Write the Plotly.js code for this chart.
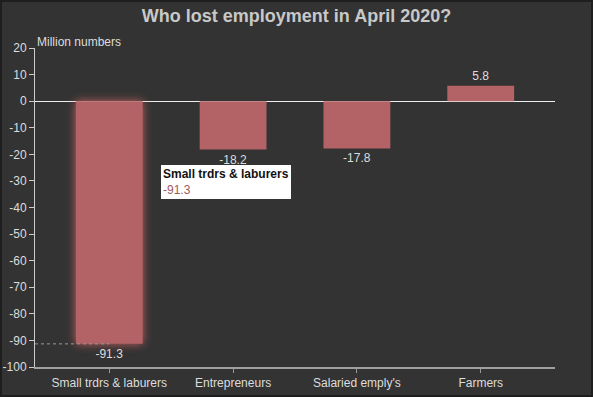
<!DOCTYPE html>
<html>
<head>
<meta charset="utf-8">
<script src="https://cdn.plot.ly/plotly-3.0.1.min.js"></script>
<style>
html,body{margin:0;padding:0;background:#333333;}
#wrap{width:589px;height:393px;border:2px solid #1e1e1e;overflow:hidden;}
#chart{width:589px;height:393px;}
</style>
</head>
<body>
<div id="wrap"><div id="chart"></div></div>
<script>
const categories = ["Small trdrs & laburers", "Entrepreneurs", "Salaried emply's", "Farmers"];
const values = [-91.3, -18.2, -17.8, 5.8];
const valueLabels = ["-91.3", "-18.2", "-17.8", "5.8"];
const yTicks = [20, 10, 0, -10, -20, -30, -40, -50, -60, -70, -80, -90, -100];

const barColor = "#b36366";
const txt = "#dddddd";

const trace = {
  type: "bar",
  x: categories.map((c, i) => i),
  y: values,
  width: 0.54,
  marker: {color: barColor, line: {width: 0}},
  text: valueLabels,
  textposition: "outside",
  cliponaxis: false,
  textfont: {family: "Liberation Sans, Arial, sans-serif", size: 12, color: txt},
  hoverinfo: "none"
};

const layout = {
  width: 589, height: 393,
  paper_bgcolor: "#333333",
  plot_bgcolor: "#333333",
  margin: {l: 33, r: 36, t: 46, b: 28},
  showlegend: false,
  font: {family: "Liberation Sans, Arial, sans-serif", size: 12, color: txt},
  title: {
    text: "<b>Who lost employment in April 2020?</b>",
    font: {family: "Liberation Sans, Arial, sans-serif", size: 18, color: "#c8c8c8"},
    x: 0.5, xanchor: "center", y: 0.98, yanchor: "top"
  },
  xaxis: {
    range: [-0.6, 3.6],
    tickmode: "array",
    tickvals: categories.map((c, i) => i),
    ticktext: categories,
    ticks: "outside", ticklen: 4, tickcolor: "#999999", tickwidth: 1,
    showline: true, linecolor: "#a0a0a0", linewidth: 2,
    showgrid: false, zeroline: false,
    tickfont: {size: 12, color: txt},
    fixedrange: true
  },
  yaxis: {
    range: [-100, 20],
    tickmode: "array",
    tickvals: yTicks,
    ticktext: yTicks.map(String),
    ticks: "outside", ticklen: 5, tickcolor: "#cccccc", tickwidth: 1,
    showline: true, linecolor: "#cccccc", linewidth: 1,
    showgrid: false,
    zeroline: true, zerolinecolor: "#eeeeee", zerolinewidth: 1,
    tickfont: {size: 12, color: txt},
    fixedrange: true
  },
  shapes: [
    {type: "line", xref: "x", yref: "y", x0: -0.6, x1: 0, y0: values[0], y1: values[0],
     line: {color: "#999999", width: 1, dash: "3px,3px"}, layer: "above"}
  ],
  annotations: [
    {text: "Million numbers", xref: "paper", yref: "paper", x: 0, y: 1,
     xanchor: "left", yanchor: "bottom", xshift: 0, yshift: -3, showarrow: false,
     font: {size: 12, color: txt}},
    {text: "<b>" + categories[0] + "</b><br><span style='color:#a05a5e'>" + valueLabels[0] + "</span>",
     xref: "x", yref: "y", x: 0.42, y: -30.5, xanchor: "left", yanchor: "middle",
     align: "left", showarrow: false, bgcolor: "#ffffff", bordercolor: "#ffffff",
     borderpad: 1, font: {size: 12, color: "#111111"}}
  ]
};

Plotly.newPlot("chart", [trace], layout, {displayModeBar: false, staticPlot: true}).then(() => {
  const pts = document.querySelectorAll("#chart .trace.bars .point path");
  if (pts[0]) pts[0].style.filter = "drop-shadow(0 0 5px rgba(230,110,110,0.8))";
});
</script>
</body>
</html>
